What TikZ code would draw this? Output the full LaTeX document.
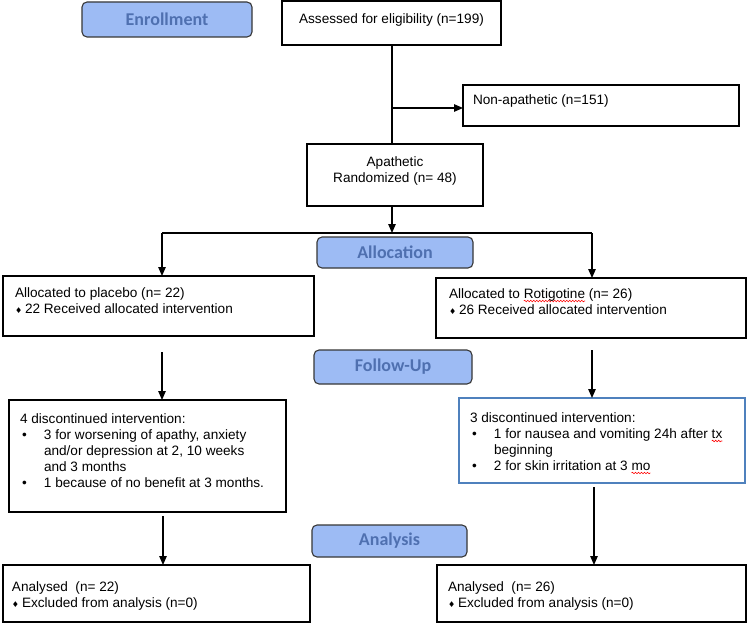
\documentclass[tikz,border=0pt]{standalone}
\usepackage{fontspec}
\setmainfont{Liberation Sans}
\newfontfamily\labfont{Carlito}
\newfontfamily\symfont{DejaVu Sans}
\usetikzlibrary{arrows.meta,decorations.pathmorphing}
\definecolor{labfill}{RGB}{157,187,244}
\definecolor{labtext}{RGB}{79,112,176}
\definecolor{labdraw}{RGB}{55,55,55}
\definecolor{bluebd}{RGB}{79,129,189}
\newlength\spw
\newcommand\spellerr[1]{\settowidth\spw{#1}\tikz[overlay,baseline=0pt,x=1pt,y=1pt]\draw[red,line width=0.6pt,decorate,decoration={snake,amplitude=0.8pt,segment length=3pt}] (0,-3pt) -- (\spw,-3pt);#1}
\newcommand\boxtext[4]{\parbox[c][#2][t]{#1}{\parskip=0pt\fontsize{13.6}{16}\selectfont\vspace*{#3}#4}}
\newcommand\diam{\makebox[10pt][l]{\symfont\fontsize{8}{8}\selectfont\char"2666}}
\newcommand\bul{\hspace*{2pt}\makebox[22pt][l]{\char"2022}}
\tikzset{
  box/.style={draw=black, line width=1.2pt, fill=white, inner ysep=0pt, outer sep=0pt},
  stage/.style={draw=labdraw, line width=1.1pt, fill=labfill, rounded corners=5pt,
    text=labtext, font=\labfont\bfseries\fontsize{18}{18}\selectfont, inner sep=0pt},
  conn/.style={line width=1.2pt, draw=black},
  arr/.style={conn, -{Triangle[length=9pt,width=7.5pt]}}
}
\begin{document}
\begin{tikzpicture}[x=1pt,y=-1pt]
\useasboundingbox (0,0) rectangle (747,623);
\fill[white] (0,0) rectangle (747,623);

% stage labels
\node[stage, minimum width=170pt, minimum height=35pt] (enr) at (167,19.5) {Enrollment};
\node[stage, minimum width=156pt, minimum height=31pt] (alloc) at (395,252.5) {Allocation};
\node[stage, minimum width=158pt, minimum height=34pt] (foll) at (393,367) {Follow-Up};
\node[stage, minimum width=155pt, minimum height=32pt] (anal) at (389.5,541) {Analysis};

% boxes
\node[box, inner xsep=0pt] (assess) at (391.5,23) {\boxtext{219pt}{44pt}{11.8pt}{\centering\strut Assessed for eligibility (n=199)}};
\node[box, inner xsep=10pt] (nonap) at (601,105.5) {\boxtext{256pt}{41pt}{8.8pt}{\raggedright\strut Non-apathetic (n=151)}};
\node[box, inner xsep=0pt] (apath) at (395,175) {\boxtext{176pt}{62pt}{11.8pt}{\centering\strut Apathetic\\ Randomized (n= 48)}};

\node[box, inner xsep=12pt] (placebo) at (158.5,306) {\boxtext{287pt}{60pt}{9.8pt}{\raggedright\strut Allocated to placebo (n= 22)\\ \diam 22 Received allocated intervention}};
\node[box, inner xsep=13pt] (rot) at (591,308) {\boxtext{284pt}{60pt}{8.8pt}{\raggedright\strut Allocated to \spellerr{Rotigotine} (n= 26)\\ \diam 26 Received allocated intervention}};

\node[box, inner xsep=11pt] (discL) at (147.5,456) {\boxtext{255pt}{112pt}{11.8pt}{\raggedright\strut 4 discontinued intervention:\\
\bul 3 for worsening of apathy, anxiety\\
\hspace*{24pt}and/or depression at 2, 10 weeks\\
\hspace*{24pt}and 3 months\\
\bul 1 because of no benefit at 3 months.}};
\node[box, draw=bluebd, inner xsep=11pt] (discR) at (602,440.5) {\boxtext{264pt}{85pt}{12.8pt}{\raggedright\strut 3 discontinued intervention:\\
\bul 1 for nausea and vomiting 24h after \spellerr{tx}\\
\hspace*{24pt}beginning\\
\bul 2 for skin irritation at 3 \spellerr{mo}}};

\node[box, inner xsep=9pt] (anL) at (156.5,593.5) {\boxtext{289pt}{57pt}{14.8pt}{\raggedright\strut Analysed\ \ (n= 22)\\ \diam Excluded from analysis (n=0)}};
\node[box, inner xsep=11pt] (anR) at (591.5,593.5) {\boxtext{287pt}{57pt}{14.8pt}{\raggedright\strut Analysed\ \ (n= 26)\\ \diam Excluded from analysis (n=0)}};

% connectors
\coordinate (br) at (392,108);
\coordinate (split) at (392,233);
\coordinate (sl) at (162,233);
\coordinate (sr) at (592,233);
\coordinate (fl) at (162,352);
\coordinate (fr) at (592,350);
\coordinate (al) at (163,516);
\coordinate (ar) at (594,487);

\draw[conn] (assess.south -| br) -- (apath.north -| br);
\draw[arr] (br) -- (br -| nonap.west);
\draw[arr] (apath.south -| split) -- (split);
\draw[conn] (sl) -- (sr);
\draw[arr] (sl) -- (sl |- placebo.north);
\draw[arr] (sr) -- (sr |- rot.north);
\draw[arr] (fl) -- (fl |- discL.north);
\draw[arr] (fr) -- (fr |- discR.north);
\draw[arr] (al) -- (al |- anL.north);
\draw[arr] (ar) -- (ar |- anR.north);
\end{tikzpicture}
\end{document}
